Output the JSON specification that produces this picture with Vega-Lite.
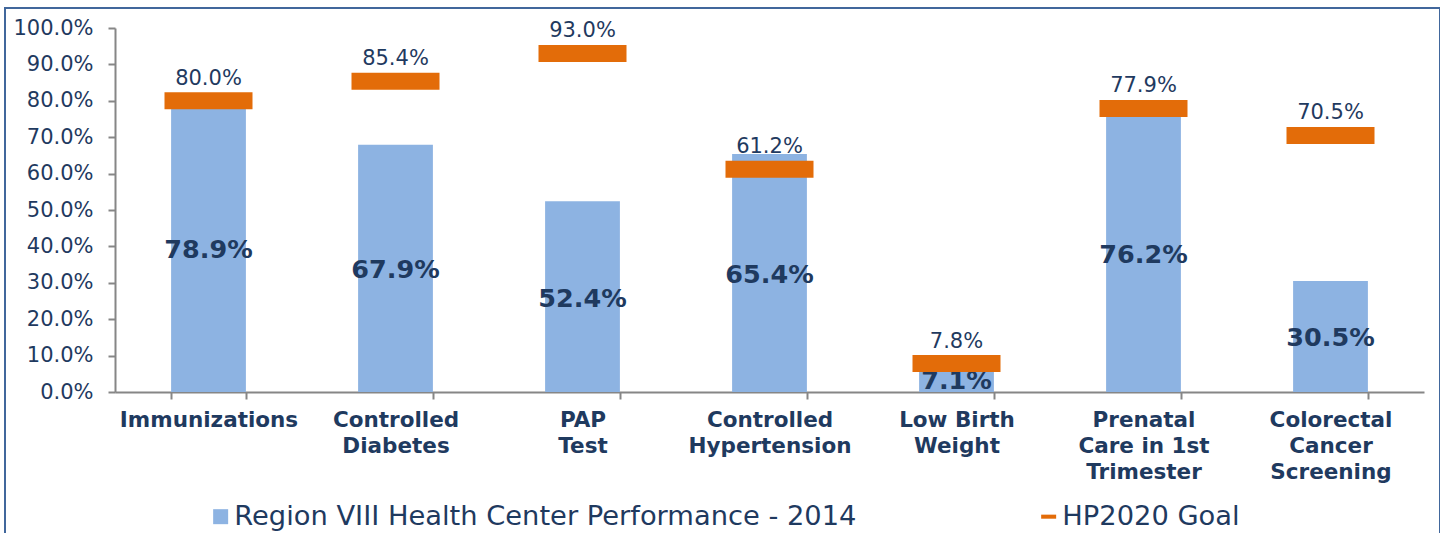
{
  "$schema": "https://vega.github.io/schema/vega-lite/v6.json",
  "autosize": {"type": "none"},
  "width": 1435,
  "height": 540,
  "padding": {"left": 5, "top": 8, "right": 0, "bottom": 0},
  "background": "white",
  "config": {
    "view": {"stroke": "#41679c", "strokeWidth": 2},
    "font": "DejaVu Sans"
  },
  "data": {
    "values": [
      {"category": "Immunizations", "performance": 0.789, "goal": 0.800},
      {"category": "Controlled Diabetes", "performance": 0.679, "goal": 0.854},
      {"category": "PAP Test", "performance": 0.524, "goal": 0.930},
      {"category": "Controlled Hypertension", "performance": 0.654, "goal": 0.612},
      {"category": "Low Birth Weight", "performance": 0.071, "goal": 0.078},
      {"category": "Prenatal Care in 1st Trimester", "performance": 0.762, "goal": 0.779},
      {"category": "Colorectal Cancer Screening", "performance": 0.305, "goal": 0.705}
    ]
  },
  "encoding": {
    "x": {
      "field": "category",
      "type": "nominal",
      "sort": null,
      "scale": {"range": [110, 1419], "paddingInner": 0.6, "paddingOuter": 0.3},
      "axis": {
        "title": null,
        "offset": -156,
        "labelAngle": 0,
        "tickBand": "extent",
        "domainColor": "#868686",
        "domainWidth": 2,
        "tickColor": "#868686",
        "tickWidth": 2,
        "tickSize": 7,
        "labelFont": "DejaVu Sans",
        "labelFontWeight": "bold",
        "labelFontSize": 21.5,
        "labelColor": "#1f3a5f",
        "labelPadding": 10,
        "labelLineHeight": 26,
        "labelLimit": 400,
        "labelExpr": "datum.label == 'Controlled Diabetes' ? ['Controlled', 'Diabetes'] : datum.label == 'PAP Test' ? ['PAP', 'Test'] : datum.label == 'Controlled Hypertension' ? ['Controlled', 'Hypertension'] : datum.label == 'Low Birth Weight' ? ['Low Birth', 'Weight'] : datum.label == 'Prenatal Care in 1st Trimester' ? ['Prenatal', 'Care in 1st', 'Trimester'] : datum.label == 'Colorectal Cancer Screening' ? ['Colorectal', 'Cancer', 'Screening'] : datum.label"
      }
    }
  },
  "layer": [
    {
      "mark": {"type": "bar", "color": "#8db3e2"},
      "encoding": {
        "y": {
          "field": "performance",
          "type": "quantitative",
          "scale": {"domain": [0, 1], "nice": false, "range": [384, 20]},
          "axis": {
            "title": null,
            "offset": -110,
            "grid": false,
            "values": [0, 0.1, 0.2, 0.3, 0.4, 0.5, 0.6, 0.7, 0.8, 0.9, 1.0],
            "format": ".1%",
            "domainColor": "#868686",
            "domainWidth": 2,
            "tickColor": "#868686",
            "tickWidth": 2,
            "tickSize": 7,
            "labelFont": "DejaVu Sans",
            "labelFontSize": 21,
            "labelColor": "#1f3a5f",
            "labelPadding": 15
          }
        },
        "color": {
          "datum": "Region VIII Health Center Performance - 2014",
          "type": "nominal",
          "scale": {
            "domain": ["Region VIII Health Center Performance - 2014", "HP2020 Goal"],
            "range": ["#8db3e2", "#e36c09"]
          },
          "legend": {
            "title": null,
            "orient": "none",
            "direction": "horizontal",
            "legendX": 202,
            "legendY": 495,
            "columns": 2,
            "columnPadding": 178,
            "symbolSize": 225,
            "symbolStrokeWidth": 0,
            "labelFont": "DejaVu Sans",
            "labelFontSize": 27.3,
            "labelColor": "#1f3a5f",
            "labelOffset": 0,
            "labelLimit": 900,
            "encode": {
              "symbols": {
                "update": {
                  "shape": {"signal": "datum.value === 'HP2020 Goal' ? 'M-1,-0.27H1V0.27H-1Z' : 'square'"},
                  "strokeWidth": {"value": 0},
                  "opacity": {"value": 1}
                }
              }
            }
          }
        }
      }
    },
    {
      "mark": {"type": "text", "fontWeight": "bold", "fontSize": 25.5, "color": "#1f3a5f", "baseline": "middle", "dy": 2},
      "encoding": {
        "y": {
          "field": "performance",
          "type": "quantitative",
          "scale": {"domain": [0, 2], "nice": false, "range": [384, 20]},
          "axis": null
        },
        "text": {"field": "performance", "type": "quantitative", "format": ".1%"}
      }
    },
    {
      "mark": {"type": "tick", "color": "#e36c09", "size": 88, "thickness": 17, "opacity": 1},
      "encoding": {
        "y": {
          "field": "goal",
          "type": "quantitative",
          "scale": {"domain": [0, 1], "nice": false, "range": [384, 20]},
          "axis": null
        },
        "color": {"datum": "HP2020 Goal", "type": "nominal"}
      }
    },
    {
      "mark": {"type": "text", "fontSize": 21, "color": "#1f3a5f", "baseline": "alphabetic", "dy": -16},
      "encoding": {
        "y": {
          "field": "goal",
          "type": "quantitative",
          "scale": {"domain": [0, 1], "nice": false, "range": [384, 20]},
          "axis": null
        },
        "text": {"field": "goal", "type": "quantitative", "format": ".1%"}
      }
    }
  ],
  "resolve": {"scale": {"y": "independent"}}
}
